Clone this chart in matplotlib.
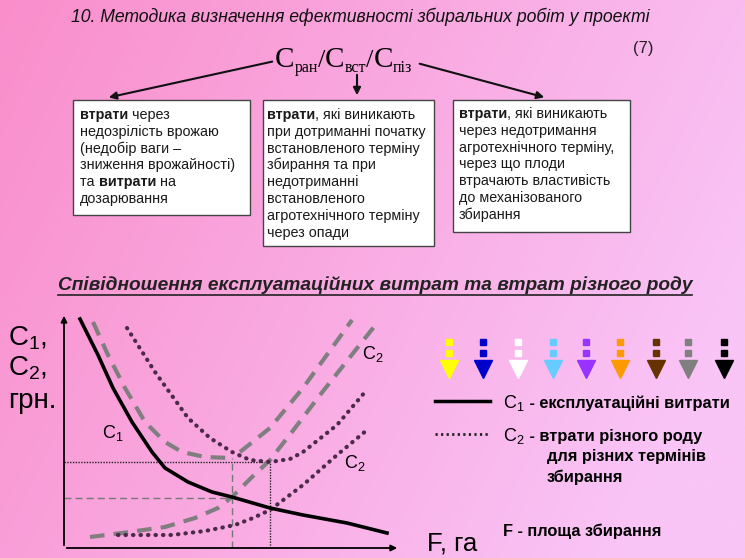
import numpy as np
import matplotlib.pyplot as plt
from matplotlib import font_manager

# Дані кривих (умовні одиниці: F - площа, C - витрати)
f_c1 = [16, 34, 49, 68, 88, 101, 124, 148, 168, 206, 239, 283, 323]
c_c1 = [229, 193, 160, 126, 96, 80, 66, 56, 51, 40, 33, 25, 15]

f_dash_a = [29, 44, 61, 81, 101, 118, 141, 166]
c_dash_a = [226, 193, 160, 126, 106, 96, 91, 90]
f_dash_a2 = [176, 206, 239, 288]
c_dash_a2 = [96, 120, 160, 228]

f_dash_b = [26, 58, 101, 131, 154, 168, 186, 206, 231, 256, 313]
c_dash_b = [11, 15, 21, 30, 40, 51, 69, 88, 120, 153, 225]

f_dot_1 = [63, 91, 124, 146, 168, 186, 206, 226, 239, 273, 301]
c_dot_1 = [220, 176, 130, 110, 96, 88, 86, 89, 96, 123, 156]

f_dot_2 = [54, 108, 141, 171, 189, 206, 239, 273, 303]
c_dot_2 = [13, 13, 17, 23, 30, 38, 63, 93, 118]

# точки оптимуму
f_opt = [168, 206]
c_opt = [50, 86]

arrow_colors = ['#FFFF00', '#0000CC', '#FFFFFF', '#66CCFF', '#9933FF',
                '#FF9900', '#663300', '#808080', '#000000']

box1 = [[('втрати', 'bold'), (' через', 'normal')],
        [('недозрілість врожаю', 'normal')],
        [('(недобір ваги –', 'normal')],
        [('зниження врожайності)', 'normal')],
        [('та ', 'normal'), ('витрати', 'bold'), (' на', 'normal')],
        [('дозарювання', 'normal')]]
box2 = [[('втрати', 'bold'), (', які виникають', 'normal')],
        [('при дотриманні початку', 'normal')],
        [('встановленого терміну', 'normal')],
        [('збирання та при', 'normal')],
        [('недотриманні', 'normal')],
        [('встановленого', 'normal')],
        [('агротехнічного терміну', 'normal')],
        [('через опади', 'normal')]]
box3 = [[('втрати', 'bold'), (', які виникають', 'normal')],
        [('через недотримання', 'normal')],
        [('агротехнічного терміну,', 'normal')],
        [('через що плоди', 'normal')],
        [('втрачають властивість', 'normal')],
        [('до механізованого', 'normal')],
        [('збирання', 'normal')]]

################################

installed = set(f.name for f in font_manager.fontManager.ttflist)
narrow = 'Liberation Sans Narrow' if 'Liberation Sans Narrow' in installed else 'Liberation Sans'
SANS = ['Liberation Sans', 'DejaVu Sans']
SERIF = ['Liberation Serif', 'DejaVu Serif']
plt.rcParams['font.family'] = SANS
plt.rcParams['mathtext.fontset'] = 'custom'
plt.rcParams['mathtext.rm'] = 'Liberation Sans'

W, H = 745, 558
fig = plt.figure(figsize=(W / 100, H / 100), dpi=100)
ax0 = fig.add_axes([0, 0, 1, 1])
ax0.set_xlim(0, W)
ax0.set_ylim(H, 0)
ax0.axis('off')

# Фон - рожевий градієнт
xx, yy = np.meshgrid(np.linspace(0, 1, 300), np.linspace(0, 1, 220))
t = np.clip(0.85 * xx + 0.3 * yy, 0, 1)[..., None]
c0 = np.array([250, 142, 203]) / 255.
c1 = np.array([249, 196, 246]) / 255.
ax0.imshow(c0 * (1 - t) + c1 * t, extent=[0, W, H, 0], aspect='auto', zorder=0)

rend = fig.canvas.get_renderer()


def runs(x, y, parts, size, family=SANS, **kw):
    # parts: (текст, вага) або (текст, вага, розмір, зсув)
    for p in parts:
        s, w = p[0], p[1]
        sz = p[2] if len(p) > 2 else size
        dy = p[3] if len(p) > 3 else 0
        tt = ax0.text(x, y + dy, s, fontsize=sz, fontweight=w, family=family,
                      va='baseline', ha='left', **kw)
        x += tt.get_window_extent(renderer=rend).width
    return x


# Заголовок
ax0.text(360, 17, '10. Методика визначення ефективності збиральних робіт у проекті',
         fontsize=12.7, style='italic', family=[narrow, 'DejaVu Sans'],
         ha='center', va='center', color='#111111')

# Формула
runs(275, 67, [('C', 'normal', 21), ('ран', 'normal', 11.5, 5), ('/', 'normal', 19),
               ('C', 'normal', 21), ('вст', 'normal', 11.5, 5), ('/', 'normal', 19),
               ('C', 'normal', 21), ('піз', 'normal', 11.5, 5)], 20, family=SERIF)
ax0.text(643, 49, '(7)', fontsize=12, ha='center', va='center', color='#222222')

for (x1, y1), (x2, y2) in [((275, 61), (106, 98)), ((357, 72), (357, 98)), ((417, 63), (547, 98))]:
    ax0.annotate('', xy=(x2, y2), xytext=(x1, y1),
                 arrowprops=dict(arrowstyle='-|>', color='#111111', lw=1.5, mutation_scale=11))

# Блоки
for (bx0, by0, bx1, by1, tx, ty, lines) in [(73, 100, 250, 215, 80, 119, box1),
                                           (263, 100, 434, 246, 267, 119, box2),
                                           (453, 100, 630, 232, 459, 118, box3)]:
    ax0.add_patch(plt.Rectangle((bx0, by0), bx1 - bx0, by1 - by0, facecolor='white',
                                edgecolor='#444444', lw=1.0, zorder=1))
    for i, ln in enumerate(lines):
        runs(tx, ty + i * 16.8, ln, 10.4, color='#1a1a1a')

# Підзаголовок
st = ax0.text(375, 285, 'Співідношення експлуатаційних витрат та втрат різного роду',
              fontsize=13.8, style='italic', fontweight='bold', family=[narrow, 'DejaVu Sans'],
              ha='center', va='center', color='#222222')
bb = st.get_window_extent(renderer=rend)
ax0.plot([bb.x0, bb.x1], [295, 295], color='#222222', lw=1.2)

# Підписи осей
for i, lab in enumerate(['1', '2']):
    ax0.text(8, 345 + i * 31, r'$\mathregular{C_%s}$,' % lab, fontsize=20, ha='left', va='baseline')
ax0.text(8, 408, 'грн.', fontsize=20, ha='left', va='baseline')
ax0.text(427, 550, 'F, га', fontsize=18.5, ha='left', va='baseline')

# Стрілки-кольори
xs = [449, 483, 518, 553, 586, 620, 656, 688, 724]
for xc, col in zip(xs, arrow_colors):
    ax0.plot([xc, xc], [342, 353], ls='none', marker='s', ms=4, color=col)
    ax0.plot(xc, 369, ls='none', marker='v', ms=13, color=col)

# Легенда
ax0.plot([435, 490], [401, 401], color='black', lw=2.5)
ax0.plot([435, 489], [434, 434], color='#222222', lw=2, ls=(0, (0.8, 1.2)))
runs(503, 408, [(r'$\mathregular{C_1}$', 'normal', 13), (' - експлуатаційні витрати', 'bold', 11.8)], 12)
runs(503, 441, [(r'$\mathregular{C_2}$', 'normal', 13), (' - втрати різного роду', 'bold', 11.8)], 12)
ax0.text(547, 461, 'для різних термінів', fontsize=11.8, fontweight='bold', va='baseline')
ax0.text(547, 482, 'збирання', fontsize=11.8, fontweight='bold', va='baseline')
ax0.text(503, 536, 'F - площа збирання', fontsize=11.8, fontweight='bold', va='baseline')

################################

# Графік
ax = fig.add_axes([64 / W, (H - 548) / H, 336 / W, 233 / H])
ax.set_xlim(0, 336)
ax.set_ylim(0, 233)
ax.patch.set_alpha(0)
ax.axis('off')
ax.annotate('', xy=(0, 235), xytext=(0, 0),
            arrowprops=dict(arrowstyle='-|>', color='black', lw=1.3, mutation_scale=9), annotation_clip=False)
ax.annotate('', xy=(336, 0), xytext=(0, 0),
            arrowprops=dict(arrowstyle='-|>', color='black', lw=1.3, mutation_scale=9), annotation_clip=False)

dot = dict(color='#4a2a48', lw=3, ls=(0, (0.1, 1.7)), dash_capstyle='round')
dash = dict(color='#7f7f7f', lw=3, ls=(0, (3.5, 2.2)))

ax.plot([0, f_opt[1]], [c_opt[1], c_opt[1]], color='#222222', lw=1, ls=(0, (1, 1)))
ax.plot([f_opt[1], f_opt[1]], [0, c_opt[1]], color='#222222', lw=1, ls=(0, (1, 1)))
ax.plot([0, f_opt[0]], [c_opt[0], c_opt[0]], color='#777777', lw=1, ls=(0, (5, 3)))
ax.plot([f_opt[0], f_opt[0]], [0, c_dash_a[-1]], color='#777777', lw=1, ls=(0, (5, 3)))

ax.plot(f_dash_a, c_dash_a, **dash)
ax.plot(f_dash_a2, c_dash_a2, **dash)
ax.plot(f_dash_b, c_dash_b, **dash)
ax.plot(f_dot_1, c_dot_1, **dot)
ax.plot(f_dot_2, c_dot_2, **dot)
ax.plot(f_c1, c_c1, color='black', lw=2.6)

ax.text(38, 110, r'$\mathregular{C_1}$', fontsize=13)
ax.text(298, 189, r'$\mathregular{C_2}$', fontsize=13)
ax.text(280, 80, r'$\mathregular{C_2}$', fontsize=13)

plt.savefig('out.png', dpi=100)
